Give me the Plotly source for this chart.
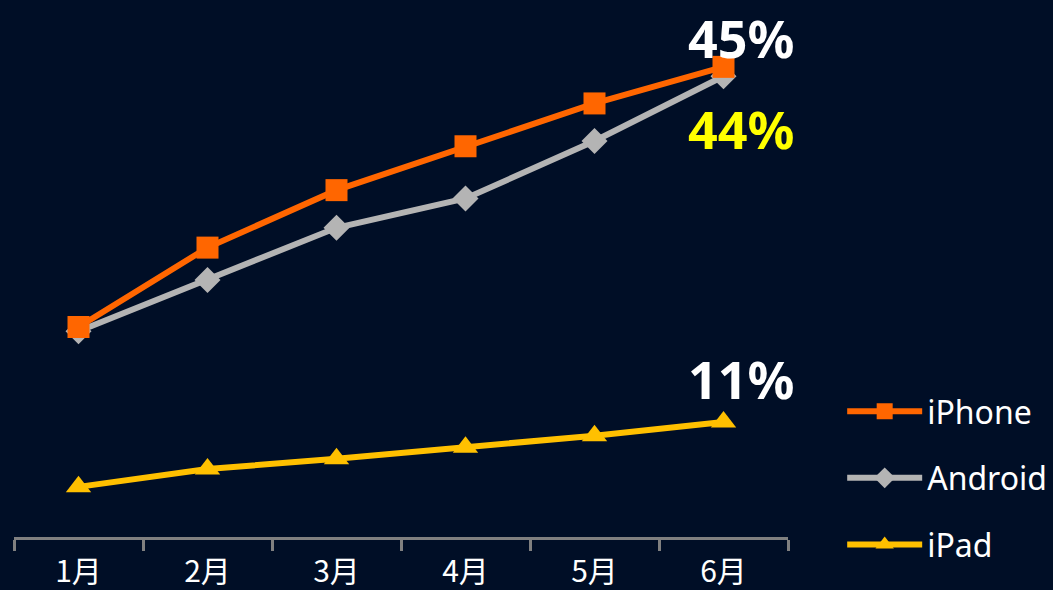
import plotly.graph_objects as go

months = ["1月", "2月", "3月", "4月", "5月", "6月"]
iphone = [20.1, 27.7, 33.2, 37.4, 41.5, 45.0]
android = [19.7, 24.6, 29.6, 32.4, 37.9, 44.1]
ipad = [4.8, 6.5, 7.5, 8.6, 9.7, 11.0]

BG = "#000e26"
fig = go.Figure()
fig.add_trace(go.Scatter(x=months, y=android, name="Android", mode="lines+markers",
                         line=dict(color="#b4b4b4", width=6), legendrank=2, legendgroup="b",
                         marker=dict(symbol="diamond", size=20, color="#b4b4b4")))
fig.add_trace(go.Scatter(x=months, y=iphone, name="iPhone", mode="lines+markers",
                         line=dict(color="#ff6600", width=6), legendrank=1, legendgroup="a",
                         marker=dict(symbol="square", size=22, color="#ff6600")))
fig.add_trace(go.Scatter(x=months, y=ipad, name="iPad", mode="lines+markers",
                         line=dict(color="#ffc000", width=6), legendrank=3, legendgroup="c",
                         marker=dict(symbol="triangle-up", size=22, color="#ffc000")))

fig.add_annotation(x=months[-1], y=iphone[-1], text="<b>45%</b>", showarrow=False,
                   xshift=17, yshift=29, font=dict(size=52, color="white"))
fig.add_annotation(x=months[-1], y=android[-1], text="<b>44%</b>", showarrow=False,
                   xshift=17, yshift=-52, font=dict(size=52, color="#ffff00"))
fig.add_annotation(x=months[-1], y=ipad[-1], text="<b>11%</b>", showarrow=False,
                   xshift=17, yshift=44, font=dict(size=52, color="white"))

fig.update_layout(
    width=1053, height=590,
    paper_bgcolor=BG, plot_bgcolor=BG,
    margin=dict(l=14, r=265, t=0, b=53),
    font=dict(family="Noto Sans, Noto Sans CJK SC", color="white"),
    showlegend=True,
    legend=dict(x=1.07, y=0.285, xanchor="left", yanchor="top",
                font=dict(size=32, color="white"), itemwidth=75,
                traceorder="grouped", tracegroupgap=22,
                bgcolor="rgba(0,0,0,0)"),
)
fig.update_xaxes(type="category", range=[-0.5, 5.5], showgrid=False, zeroline=False,
                 showline=True, linecolor="#808080", linewidth=3,
                 ticks="outside", tickson="boundaries", ticklen=11, tickcolor="#808080", tickwidth=3,
                 ticklabelstandoff=6,
                 tickfont=dict(size=30, color="white", family="Noto Sans CJK SC"))
fig.update_yaxes(range=[0, 51.4], visible=False, showgrid=False, zeroline=False)

fig.write_html("out.html", config={"displayModeBar": False},
               post_script="document.body.style.margin='0';document.body.style.overflow='hidden';")
